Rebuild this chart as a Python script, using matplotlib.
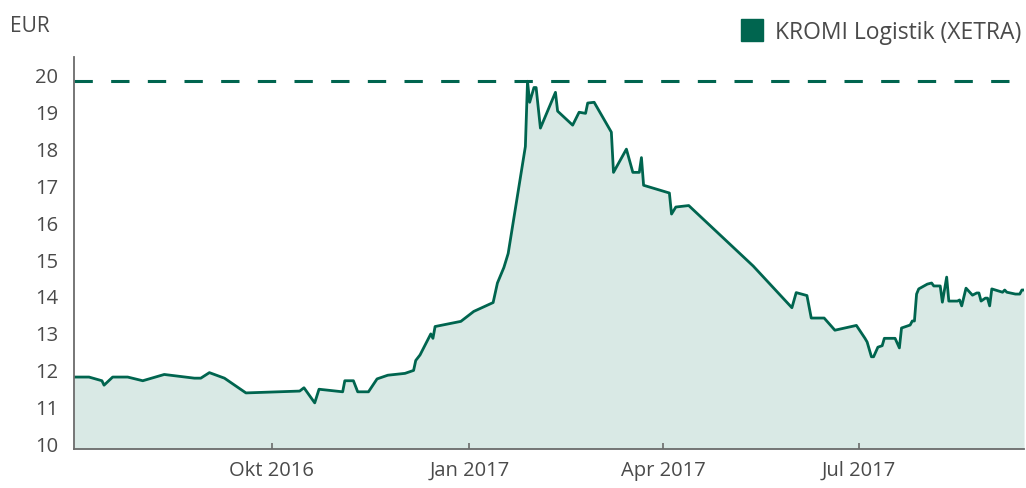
import matplotlib
matplotlib.use("Agg")
import matplotlib.pyplot as plt
import matplotlib.transforms as mtransforms
import pandas as pd
from matplotlib.lines import Line2D

# Kursverlauf KROMI Logistik (XETRA)
dates = [
    "2016-07-01", "2016-07-08", "2016-07-14", "2016-07-15", "2016-07-19", "2016-07-26",
    "2016-08-02", "2016-08-12", "2016-08-26", "2016-08-29", "2016-09-02", "2016-09-09",
    "2016-09-19", "2016-10-14", "2016-10-16", "2016-10-21", "2016-10-23", "2016-11-03",
    "2016-11-04", "2016-11-08", "2016-11-10", "2016-11-15", "2016-11-19", "2016-11-24",
    "2016-12-02", "2016-12-06", "2016-12-07", "2016-12-09", "2016-12-14", "2016-12-15",
    "2016-12-16", "2016-12-28", "2017-01-03", "2017-01-12", "2017-01-14", "2017-01-17",
    "2017-01-19", "2017-01-27", "2017-01-28", "2017-01-29", "2017-01-31", "2017-02-01",
    "2017-02-03", "2017-02-10", "2017-02-11", "2017-02-18", "2017-02-21", "2017-02-24",
    "2017-02-25", "2017-02-28", "2017-03-08", "2017-03-09", "2017-03-15", "2017-03-18",
    "2017-03-21", "2017-03-22", "2017-03-23", "2017-04-04", "2017-04-05", "2017-04-07",
    "2017-04-13", "2017-05-13", "2017-05-31", "2017-06-02", "2017-06-07", "2017-06-09",
    "2017-06-15", "2017-06-20", "2017-06-30", "2017-07-04", "2017-07-05", "2017-07-07",
    "2017-07-08", "2017-07-10", "2017-07-12", "2017-07-13", "2017-07-18", "2017-07-20",
    "2017-07-21", "2017-07-25", "2017-07-26", "2017-07-27", "2017-07-28", "2017-07-29",
    "2017-08-02", "2017-08-04", "2017-08-05", "2017-08-08", "2017-08-09", "2017-08-11",
    "2017-08-12", "2017-08-16", "2017-08-17", "2017-08-18", "2017-08-20", "2017-08-23",
    "2017-08-25", "2017-08-26", "2017-08-27", "2017-08-29", "2017-08-30", "2017-08-31",
    "2017-09-01", "2017-09-06", "2017-09-07", "2017-09-08", "2017-09-12", "2017-09-14",
    "2017-09-15", "2017-09-16",
]
prices = [
    11.95, 11.95, 11.85, 11.73, 11.95, 11.95,
    11.85, 12.02, 11.92, 11.92, 12.07, 11.92,
    11.52, 11.57, 11.66, 11.25, 11.62, 11.55,
    11.85, 11.85, 11.55, 11.55, 11.90, 12.00,
    12.05, 12.13, 12.40, 12.55, 13.12, 13.00,
    13.32, 13.46, 13.73, 13.97, 14.50, 14.92,
    15.30, 18.20, 19.97, 19.40, 19.80, 19.80,
    18.70, 19.67, 19.16, 18.78, 19.13, 19.10,
    19.38, 19.40, 18.59, 17.50, 18.13, 17.50,
    17.50, 17.90, 17.15, 16.94, 16.37, 16.56,
    16.60, 14.96, 13.83, 14.24, 14.16, 13.55,
    13.55, 13.22, 13.35, 13.00, 12.90, 12.50,
    12.50, 12.76, 12.80, 13.00, 13.00, 12.74,
    13.28, 13.36, 13.47, 13.47, 14.20, 14.34,
    14.47, 14.50, 14.42, 14.42, 13.98, 14.66,
    14.01, 14.01, 14.04, 13.88, 14.36, 14.17,
    14.23, 14.23, 14.01, 14.09, 14.09, 13.88,
    14.34, 14.25, 14.31, 14.25, 14.20, 14.20,
    14.31, 14.31,
]
year_high = 19.97
y_ticks = [10, 11, 12, 13, 14, 15, 16, 17, 18, 19, 20]
x_ticks = ["2016-10-01", "2017-01-01", "2017-04-01", "2017-07-01"]
x_labels = ["Okt 2016", "Jan 2017", "Apr 2017", "Jul 2017"]
series_name = "KROMI Logistik (XETRA)"

GREEN = "#00654f"
FILL = "#d9e9e5"
TEXT = "#4a4a4a"
AXIS = "#6b6b6b"
FS = 14.5

plt.rcParams["font.family"] = ["Open Sans", "DejaVu Sans"]

x = pd.to_datetime(dates)

fig = plt.figure(figsize=(10.26, 4.89), dpi=100)
ax = fig.add_axes([0.0721, 0.0798, 0.926, 0.801])

ax.fill_between(x, prices, 10, color=FILL, linewidth=0)
ax.plot(x, prices, color=GREEN, linewidth=2.0, solid_joinstyle="round")
ax.axhline(year_high, color=GREEN, linewidth=2.2, linestyle=(0, (6, 6)))

ax.set_xlim(x[0], x[-1])
ax.set_ylim(10, 20.62)

ax.set_yticks(y_ticks)
ax.tick_params(axis="y", length=0, pad=28, labelsize=FS, labelcolor=TEXT)
lift = mtransforms.ScaledTranslation(0, 4 / 72, fig.dpi_scale_trans)
for lab in ax.get_yticklabels():
    lab.set_horizontalalignment("left")
    lab.set_transform(lab.get_transform() + lift)

ax.set_xticks(pd.to_datetime(x_ticks))
ax.set_xticklabels(x_labels)
ax.tick_params(axis="x", direction="in", length=4, width=1.2, color=AXIS,
               pad=8, labelsize=FS, labelcolor=TEXT)

for side in ["top", "right"]:
    ax.spines[side].set_visible(False)
for side in ["left", "bottom"]:
    ax.spines[side].set_color(AXIS)
    ax.spines[side].set_linewidth(1.3)

fig.text(0.0097, 0.945, "EUR", fontsize=FS + 0.5, color=TEXT, va="center", ha="left")

handle = Line2D([], [], linestyle="none", marker="s", markersize=16,
                markerfacecolor=GREEN, markeredgecolor=GREEN)
fig.legend([handle], [series_name], loc="center right",
           bbox_to_anchor=(1.0, 0.932), frameon=False, fontsize=16.5,
           labelcolor=TEXT, handletextpad=0.5, borderaxespad=0.0,
           borderpad=0.2, handlelength=1.0)

fig.savefig("out.png", dpi=100)
